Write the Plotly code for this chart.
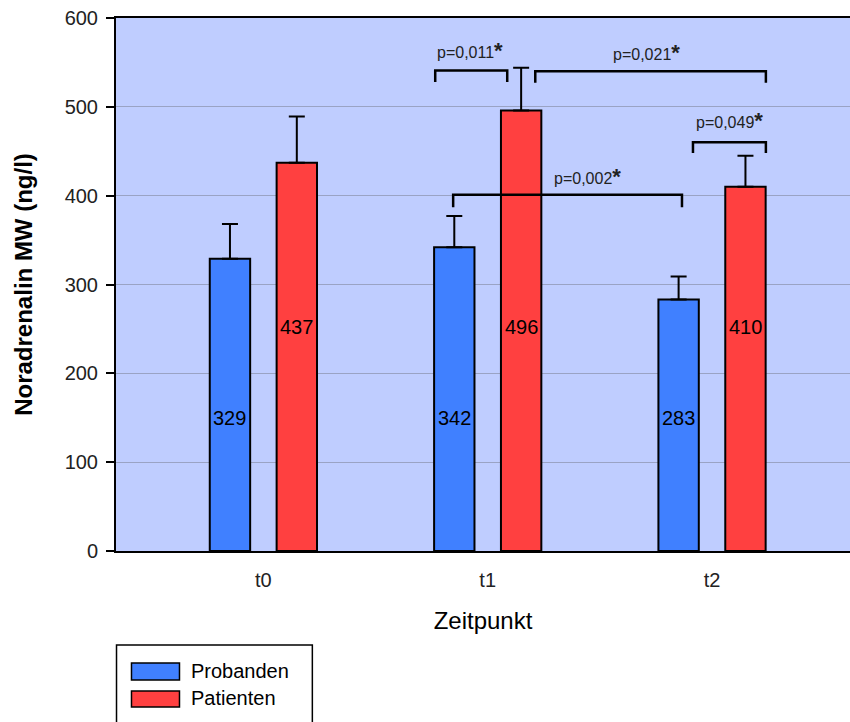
import plotly.graph_objects as go

categories = ["t0", "t1", "t2"]
probanden = [329, 342, 283]
patienten = [437, 496, 410]
probanden_err = [39, 35, 26]
patienten_err = [52, 48, 35]
label_y_probanden = [150, 150, 150]
label_y_patienten = [252, 252, 252]

# significance brackets: (x_left, x_right, y_top, y_leg, text, text_x, text_y)
brackets = [
    (0.766, 1.087, 541, 528, "p=0,011", 0.922, 563),
    (1.212, 2.240, 540, 527, "p=0,021", 1.71, 561),
    (1.915, 2.240, 460, 448, "p=0,049", 2.08, 485),
    (0.846, 1.866, 401, 387, "p=0,002", 1.443, 422),
]

BLUE = "#4080ff"
RED = "#ff4040"
FONT = "Liberation Sans, Arial, sans-serif"

fig = go.Figure()
fig.add_trace(go.Bar(
    x=categories, y=probanden, name="Probanden",
    width=0.18, offset=-0.239,
    marker=dict(color=BLUE, line=dict(color="black", width=2)),
    error_y=dict(type="data", array=probanden_err, symmetric=False,
                 arrayminus=[0, 0, 0], color="black", thickness=2, width=8),
    showlegend=False,
))
fig.add_trace(go.Bar(
    x=categories, y=patienten, name="Patienten",
    width=0.18, offset=0.059,
    marker=dict(color=RED, line=dict(color="black", width=2)),
    error_y=dict(type="data", array=patienten_err, symmetric=False,
                 arrayminus=[0, 0, 0], color="black", thickness=2, width=8),
    showlegend=False,
))

annotations = []
shapes = []
cat_index = {c: i for i, c in enumerate(categories)}
for c, v, ly in zip(categories, probanden, label_y_probanden):
    annotations.append(dict(x=cat_index[c] - 0.149, y=ly, xref="x", yref="y",
                            text=str(v), showarrow=False,
                            font=dict(size=20, color="black", family=FONT)))
for c, v, ly in zip(categories, patienten, label_y_patienten):
    annotations.append(dict(x=cat_index[c] + 0.149, y=ly, xref="x", yref="y",
                            text=str(v), showarrow=False,
                            font=dict(size=20, color="black", family=FONT)))

for xl, xr, yt, yl, txt, tx, ty in brackets:
    shapes.append(dict(type="path", xref="x", yref="y",
                       path=f"M {xl} {yl} L {xl} {yt} L {xr} {yt} L {xr} {yl}",
                       line=dict(color="black", width=2.5)))
    annotations.append(dict(x=tx, y=ty, xref="x", yref="y", showarrow=False,
                            text=txt + "<b><span style='font-size:22px'>*</span></b>",
                            font=dict(size=16, color="#222", family=FONT)))

# legend box (manual)
shapes.append(dict(type="rect", xref="paper", yref="paper",
                   x0=0.0007, x1=0.2675, y0=-0.34, y1=-0.1764,
                   line=dict(color="black", width=1.5), fillcolor="white"))
legend_items = [("Probanden", BLUE, -0.2101, -0.2420, -0.226),
                ("Patienten", RED, -0.2627, -0.2927, -0.2758)]
for name, col, y1, y0, ty in legend_items:
    shapes.append(dict(type="rect", xref="paper", yref="paper",
                       x0=0.0211, x1=0.0865, y0=y0, y1=y1,
                       line=dict(color="black", width=1.5), fillcolor=col))
    annotations.append(dict(x=0.1000, y=ty, xref="paper", yref="paper",
                            xanchor="left", yanchor="middle", showarrow=False,
                            text=name, font=dict(size=20, color="black", family=FONT)))

fig.update_layout(
    width=850, height=722,
    margin=dict(l=115.5, r=0, t=18, b=171),
    paper_bgcolor="white",
    plot_bgcolor="#bfcdff",
    barmode="overlay",
    font=dict(family=FONT, size=20, color="#222"),
    annotations=annotations,
    shapes=shapes,
    xaxis=dict(
        range=[-0.657, 2.615],
        showgrid=False,
        showline=True, linecolor="black", linewidth=2, mirror=True,
        ticks="outside", ticklen=10, tickcolor="rgba(0,0,0,0)",
        tickfont=dict(size=20, color="#222"),
        title=dict(text="Zeitpunkt", font=dict(size=24, color="black"), standoff=22),
    ),
    yaxis=dict(
        range=[0, 600],
        tickvals=[0, 100, 200, 300, 400, 500, 600],
        showgrid=True, gridcolor="#9aa3c4", gridwidth=1,
        showline=True, linecolor="black", linewidth=2,
        ticks="outside", ticklen=8, tickcolor="black", tickwidth=2,
        ticklabelstandoff=4,
        tickfont=dict(size=20, color="#222"),
        zeroline=False,
        title=dict(text="<b>Noradrenalin MW (ng/l)</b>", font=dict(size=24, color="black"), standoff=25),
    ),
)

fig.write_html("out.html", config={"displayModeBar": False},
               post_script="document.body.style.margin='0';document.body.style.overflow='hidden';")
